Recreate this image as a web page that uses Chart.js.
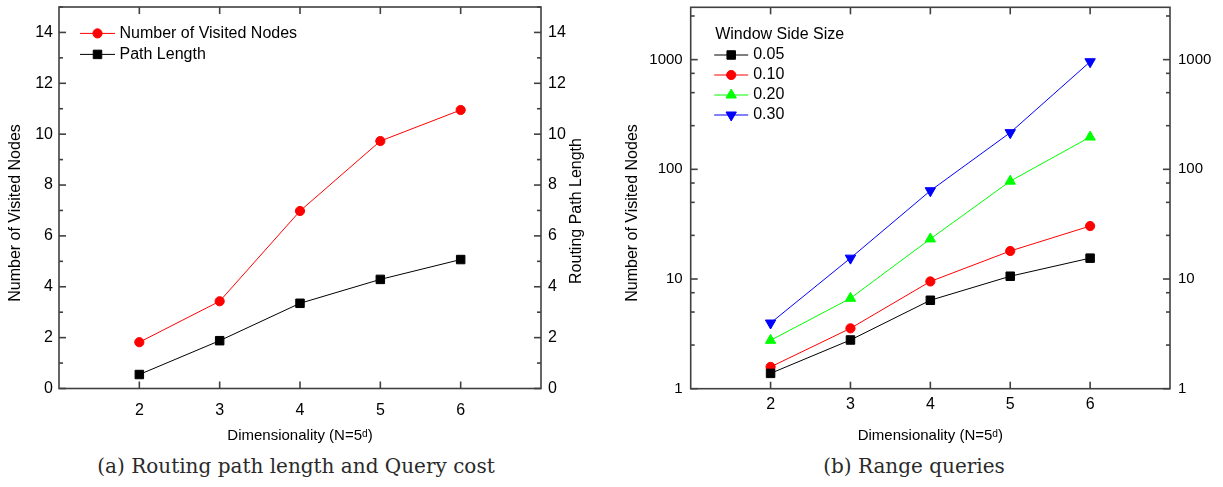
<!DOCTYPE html>
<html>
<head>
<meta charset="utf-8">
<script src="https://cdn.jsdelivr.net/npm/chart.js@4.4.0/dist/chart.umd.min.js"></script>
<style>
  html, body { margin: 0; padding: 0; background: #fff; width: 1223px; height: 487px; overflow: hidden; }
  .panel { position: absolute; top: 0; }
  #panelA { left: 0; }
  #panelB { left: 610px; }
  .caption {
    position: absolute; top: 455px; line-height: 23px;
    font-family: "DejaVu Serif", "Liberation Serif", serif; font-size: 20px; color: #2a2a2a;
    white-space: nowrap; transform: translateX(-50%);
  }
</style>
</head>
<body>
<div class="panel" id="panelA"><canvas id="chartA" width="600" height="450"></canvas></div>
<div class="panel" id="panelB"><canvas id="chartB" width="613" height="450"></canvas></div>
<div class="caption" style="left:296px">(a) Routing path length and Query cost</div>
<div class="caption" style="left:914px">(b) Range queries</div>

<script>
// ---- data ----
const dims = [2, 3, 4, 5, 6];

// (a) routing cost
const visitedNodes = [1.82, 3.43, 6.98, 9.73, 10.95];
const pathLength   = [0.55, 1.88, 3.35, 4.29, 5.07];
const costTicks    = [0, 2, 4, 6, 8, 10, 12, 14];

// (b) range queries, one series per window side size
const windowSizes = ['0.05', '0.10', '0.20', '0.30'];
const range005 = [1.38, 2.78, 6.40, 10.6, 15.5];
const range010 = [1.58, 3.55, 9.50, 18.0, 30.4];
const range020 = [2.76, 6.67, 23.2, 78.0, 197];
const range030 = [3.97, 15.5, 63.8, 216, 957];
const logTicks = [1, 10, 100, 1000];

// ---- style ----
const AXIS_COLOR = '#404040';
const SANS = '"Liberation Sans", Arial, Helvetica, sans-serif';
Chart.defaults.font.family = SANS;
Chart.defaults.font.size = 16;
Chart.defaults.color = '#000';

const points = (xs, ys) => xs.map((x, i) => ({ x, y: ys[i] }));

// force a scale box to an exact thickness so the plot frame sits where wanted
const fixSize = (prop, px) => s => {
  s[prop] = px;
  s.paddingLeft = s.paddingRight = s.paddingTop = s.paddingBottom = 0;
};

// labelled ticks plus unlabelled minor ticks
function linearTicks(major, max) {
  const out = major.map(v => ({ value: v }));
  major.forEach(v => { if (v + 1 <= max) out.push({ value: v + 1, minor: true }); });
  return out.sort((a, b) => a.value - b.value);
}
function logTickSet(major, max) {
  const out = major.map(v => ({ value: v }));
  major.forEach(v => [2.5, 5, 7.5].forEach(m => { if (v * m <= max) out.push({ value: v * m, minor: true }); }));
  return out.sort((a, b) => a.value - b.value);
}
const labelMajor = (v, i, ticks) => (ticks[i].minor ? '' : String(v));

// inward tick marks on all four sides and the plot frame
const frameAndTicks = {
  id: 'frameAndTicks',
  afterDraw(chart) {
    const { ctx, chartArea: a } = chart;
    ctx.save();
    ctx.strokeStyle = AXIS_COLOR;
    ctx.lineWidth = 1.6;
    for (const s of Object.values(chart.scales)) {
      for (const t of s.ticks) {
        const p = s.getPixelForValue(t.value);
        const len = t.minor ? 4 : 7;
        ctx.beginPath();
        if (s.position === 'left')       { ctx.moveTo(a.left, p);   ctx.lineTo(a.left + len, p); }
        else if (s.position === 'right') { ctx.moveTo(a.right, p);  ctx.lineTo(a.right - len, p); }
        else if (s.position === 'bottom'){ ctx.moveTo(p, a.bottom); ctx.lineTo(p, a.bottom - len); }
        else                             { ctx.moveTo(p, a.top);    ctx.lineTo(p, a.top + len); }
        ctx.stroke();
      }
    }
    ctx.strokeRect(a.left, a.top, a.right - a.left, a.bottom - a.top);
    ctx.restore();
  }
};

// key drawn inside the plot: line segment with the series marker, then its label
const keyBox = {
  id: 'keyBox',
  afterDraw(chart, args, o) {
    const { ctx, chartArea: a } = chart;
    ctx.save();
    ctx.font = `${o.fontSize}px ${SANS}`;
    ctx.textBaseline = 'middle';
    ctx.textAlign = 'left';
    ctx.fillStyle = '#000';
    let y = a.top + o.dy;
    if (o.title) {
      ctx.fillText(o.title, a.left + o.titleDx, a.top + o.titleDy);
    }
    chart.data.datasets.forEach(ds => {
      const x0 = a.left + o.dx, x1 = x0 + o.lineLen;
      ctx.strokeStyle = ds.borderColor;
      ctx.lineWidth = 1;
      ctx.beginPath(); ctx.moveTo(x0, y); ctx.lineTo(x1, y); ctx.stroke();
      ctx.fillStyle = ds.pointBackgroundColor;
      ctx.strokeStyle = ds.pointBorderColor;
      ctx.lineWidth = ds.pointBorderWidth;
      Chart.helpers.drawPoint(ctx, {
        pointStyle: ds.pointStyle, rotation: ds.pointRotation || 0,
        radius: ds.pointRadius, borderWidth: ds.pointBorderWidth
      }, (x0 + x1) / 2, y);
      ctx.fillStyle = '#000';
      ctx.fillText(ds.label, x1 + o.textGap, y);
      y += o.rowH;
    });
    ctx.restore();
  }
};

// vertical axis titles, both read bottom to top; x is measured from the plot edge
const sideTitles = {
  id: 'sideTitles',
  afterDraw(chart, args, o) {
    const { ctx, chartArea: a } = chart;
    (o.items || []).forEach(it => {
      const x = it.side === 'left' ? a.left - it.offset : a.right + it.offset;
      ctx.save();
      ctx.translate(x, it.centerY);
      ctx.rotate(-Math.PI / 2);
      ctx.font = `${it.fontSize}px ${SANS}`;
      ctx.textAlign = 'center';
      ctx.textBaseline = 'middle';
      ctx.fillStyle = '#000';
      ctx.fillText(it.text, 0, 0);
      ctx.restore();
    });
  }
};

function series(label, values, color, style, radius, rotation, axis) {
  return {
    label, data: points(dims, values), yAxisID: axis,
    borderColor: color, backgroundColor: color, borderWidth: 1,
    pointStyle: style, pointRadius: radius, pointRotation: rotation || 0,
    pointBackgroundColor: color, pointBorderColor: color, pointBorderWidth: 1,
    pointHoverRadius: radius, tension: 0, fill: false
  };
}

const hidden = { display: false, drawTicks: false };
const noBorder = { display: false };
const xTitle = { display: true, text: 'Dimensionality (N=5\u1D48)', font: { size: 15 }, color: '#000', padding: { top: 0, bottom: 5.6 } };

// ---- (a) routing path length and query cost ----
new Chart(document.getElementById('chartA'), {
  type: 'line',
  data: {
    datasets: [
      series('Number of Visited Nodes', visitedNodes, '#ff0000', 'circle', 4.6, 0, 'y'),
      series('Path Length', pathLength, '#000000', 'rect', 6, 0, 'yRight')
    ]
  },
  options: {
    responsive: false, animation: false, events: [],
    layout: { padding: 0 },
    plugins: {
      legend: { display: false }, tooltip: { enabled: false },
      keyBox: { dx: 21, dy: 26.4, lineLen: 35, textGap: 4.5, rowH: 21, fontSize: 16 },
      sideTitles: { items: [
        { side: 'left',  text: 'Number of Visited Nodes', offset: 43, centerY: 213, fontSize: 16 },
        { side: 'right', text: 'Routing Path Length',     offset: 36, centerY: 211, fontSize: 16 }
      ] }
    },
    scales: {
      x: {
        type: 'linear', position: 'bottom', min: 1, max: 7,
        afterBuildTicks: s => { s.ticks = dims.map(v => ({ value: v })); },
        afterFit: fixSize('height', 61.5),
        grid: hidden, border: noBorder,
        ticks: { padding: 12, autoSkip: false, maxRotation: 0, font: { size: 16 } },
        title: xTitle
      },
      xTop: {
        type: 'linear', position: 'top', min: 1, max: 7,
        afterBuildTicks: s => { s.ticks = dims.map(v => ({ value: v })); },
        afterFit: fixSize('height', 4.3),
        grid: hidden, border: noBorder, ticks: { display: false }
      },
      y: {
        type: 'linear', position: 'left', min: 0, max: 15,
        afterBuildTicks: s => { s.ticks = linearTicks(costTicks, 15); },
        afterFit: fixSize('width', 59),
        grid: hidden, border: noBorder,
        ticks: { padding: 6, autoSkip: false, callback: labelMajor, font: { size: 16 } }
      },
      yRight: {
        type: 'linear', position: 'right', min: 0, max: 15,
        afterBuildTicks: s => { s.ticks = linearTicks(costTicks, 15); },
        afterFit: fixSize('width', 59),
        grid: hidden, border: noBorder,
        ticks: { padding: 7, autoSkip: false, callback: labelMajor, font: { size: 16 } }
      }
    }
  },
  plugins: [frameAndTicks, keyBox, sideTitles]
});

// ---- (b) range queries ----
new Chart(document.getElementById('chartB'), {
  type: 'line',
  data: {
    datasets: [
      series(windowSizes[0], range005, '#000000', 'rect', 6, 0, 'y'),
      series(windowSizes[1], range010, '#ff0000', 'circle', 4.6, 0, 'y'),
      series(windowSizes[2], range020, '#00ff00', 'triangle', 6, 0, 'y'),
      series(windowSizes[3], range030, '#0000ff', 'triangle', 6, 180, 'y')
    ]
  },
  options: {
    responsive: false, animation: false, events: [],
    layout: { padding: 0 },
    plugins: {
      legend: { display: false }, tooltip: { enabled: false },
      keyBox: { title: 'Window Side Size', titleDx: 24.5, titleDy: 27, dx: 23.5, dy: 47.7, lineLen: 34, textGap: 5, rowH: 20, fontSize: 16 },
      sideTitles: { items: [
        { side: 'left', text: 'Number of Visited Nodes', offset: 58.5, centerY: 213, fontSize: 16 }
      ] }
    },
    scales: {
      x: {
        type: 'linear', position: 'bottom', min: 1, max: 7,
        afterBuildTicks: s => { s.ticks = dims.map(v => ({ value: v })); },
        afterFit: fixSize('height', 61.3),
        grid: hidden, border: noBorder,
        ticks: { padding: 6, autoSkip: false, maxRotation: 0, font: { size: 16 } },
        title: xTitle
      },
      xTop: {
        type: 'linear', position: 'top', min: 1, max: 7,
        afterBuildTicks: s => { s.ticks = dims.map(v => ({ value: v })); },
        afterFit: fixSize('height', 7.3),
        grid: hidden, border: noBorder, ticks: { display: false }
      },
      y: {
        type: 'logarithmic', position: 'left', min: 1, max: 3000,
        afterBuildTicks: s => { s.ticks = logTickSet(logTicks, 3000); },
        afterFit: fixSize('width', 80.7),
        grid: hidden, border: noBorder,
        ticks: { padding: 8, autoSkip: false, callback: labelMajor, font: { size: 15 } }
      },
      yRight: {
        type: 'logarithmic', position: 'right', min: 1, max: 3000,
        afterBuildTicks: s => { s.ticks = logTickSet(logTicks, 3000); },
        afterFit: fixSize('width', 53),
        grid: hidden, border: noBorder,
        ticks: { padding: 8, autoSkip: false, callback: labelMajor, font: { size: 15 } }
      }
    }
  },
  plugins: [frameAndTicks, keyBox, sideTitles]
});
</script>
</body>
</html>
